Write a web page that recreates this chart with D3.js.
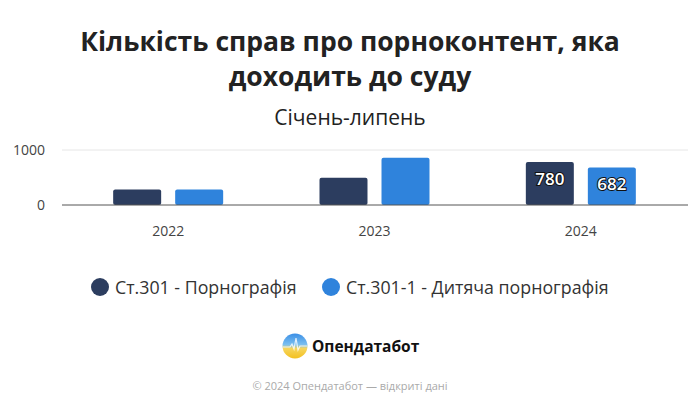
<!DOCTYPE html>
<html>
<head>
<meta charset="utf-8">
<script src="https://cdn.jsdelivr.net/npm/d3@7"></script>
<style>
  body { margin: 0; background: #fff; }
  svg { display: block; font-family: "Open Sans", "Noto Sans", sans-serif; }
</style>
</head>
<body>
<div id="chart"></div>
<script>
const years = ["2022", "2023", "2024"];
const seriesNames = ["Ст.301 - Порнографія", "Ст.301-1 - Дитяча порнографія"];
const porn = [283, 495, 780];
const childPorn = [282, 860, 682];
const labelled = ["2024"];
const yTicks = [0, 1000];

const width = 700, height = 408;
const colors = ["#2c3d5f", "#2f83dc"];

const svg = d3.select("#chart").append("svg")
  .attr("width", width)
  .attr("height", height);

// title
const title = svg.append("text")
  .attr("text-anchor", "middle")
  .attr("font-size", 26.5)
  .attr("font-weight", "bold")
  .attr("fill", "#222");
title.append("tspan").attr("x", 350).attr("y", 51).text("Кількість справ про порноконтент, яка");
title.append("tspan").attr("x", 350).attr("y", 86).text("доходить до суду");

svg.append("text")
  .attr("x", 350).attr("y", 125)
  .attr("text-anchor", "middle")
  .attr("font-size", 21)
  .attr("fill", "#222")
  .text("Січень-липень");

const margin = { left: 62, right: 12 };

const x = d3.scaleBand().domain(years).range([65, 684]);
const x1 = d3.scaleBand().domain([0, 1]).range([0, 110]).paddingInner(0.226);
const y = d3.scaleLinear().domain([0, 1000]).range([205, 150]);

// grid
svg.append("g")
  .selectAll("line")
  .data(yTicks.filter(d => d > 0))
  .join("line")
  .attr("x1", margin.left).attr("x2", width - margin.right)
  .attr("y1", d => y(d)).attr("y2", d => y(d))
  .attr("stroke", "#e6e6e6");

svg.append("g")
  .selectAll("text")
  .data(yTicks)
  .join("text")
  .attr("x", 45).attr("y", d => y(d) + 5)
  .attr("text-anchor", "end")
  .attr("font-size", 14)
  .attr("fill", "#444")
  .text(d => d);

const rows = years.map((yr, i) => ({ year: yr, values: [porn[i], childPorn[i]] }));

const groups = svg.append("g")
  .selectAll("g")
  .data(rows)
  .join("g")
  .attr("transform", d => `translate(${x(d.year) + x.bandwidth() / 2 - 55},0)`);

groups.selectAll("rect")
  .data(d => d.values.map((v, k) => ({ v, k, year: d.year })))
  .join("rect")
  .attr("x", d => x1(d.k))
  .attr("width", x1.bandwidth())
  .attr("y", d => y(d.v))
  .attr("height", d => y(0) - y(d.v))
  .attr("rx", 2)
  .attr("fill", d => colors[d.k]);

groups.selectAll("text.lbl")
  .data(d => labelled.includes(d.year) ? d.values.map((v, k) => ({ v, k })) : [])
  .join("text")
  .attr("class", "lbl")
  .attr("x", d => x1(d.k) + x1.bandwidth() / 2)
  .attr("y", d => y(d.v) + 23)
  .attr("text-anchor", "middle")
  .attr("font-size", 17)
  .attr("font-weight", 600)
  .attr("fill", "#fff")
  .attr("stroke", "#111")
  .attr("stroke-width", 2)
  .attr("paint-order", "stroke")
  .text(d => d.v);

// zero axis
svg.append("line")
  .attr("x1", margin.left).attr("x2", width - margin.right)
  .attr("y1", y(0)).attr("y2", y(0))
  .attr("stroke", "#555").attr("stroke-width", 1);

svg.append("g")
  .selectAll("text")
  .data(years)
  .join("text")
  .attr("x", d => x(d) + x.bandwidth() / 2)
  .attr("y", 236)
  .attr("text-anchor", "middle")
  .attr("font-size", 14)
  .attr("fill", "#444")
  .text(d => d);

// legend
const legendX = [100, 331];
const legend = svg.append("g")
  .selectAll("g")
  .data(seriesNames)
  .join("g")
  .attr("transform", (d, i) => `translate(${legendX[i]},287)`);
legend.append("circle").attr("r", 9).attr("fill", (d, i) => colors[i]);
legend.append("text")
  .attr("x", 15).attr("y", 6.5)
  .attr("font-size", 17.8)
  .attr("fill", "#333")
  .text(d => d);

// logo
const defs = svg.append("defs");
const grad = defs.append("linearGradient").attr("id", "logoGrad")
  .attr("x1", 0).attr("y1", 0).attr("x2", 0).attr("y2", 1);
grad.append("stop").attr("offset", "0%").attr("stop-color", "#3a8ee6");
grad.append("stop").attr("offset", "45%").attr("stop-color", "#7cc0f0");
grad.append("stop").attr("offset", "60%").attr("stop-color", "#f6d55c");
grad.append("stop").attr("offset", "100%").attr("stop-color", "#f3c020");

const logo = svg.append("g").attr("transform", "translate(295,346)");
logo.append("circle").attr("r", 12.5).attr("fill", "url(#logoGrad)");
logo.append("path")
  .attr("d", "M-12,1 L-5,1 L-3,-2 L-1,3 L1,-8 L3,4 L5,0 L12,0")
  .attr("fill", "none").attr("stroke", "#fff").attr("stroke-width", 1.2).attr("opacity", 0.8);

svg.append("text")
  .attr("x", 312).attr("y", 352)
  .attr("font-size", 15.5)
  .attr("font-weight", "bold")
  .attr("fill", "#111")
  .text("Опендатабот");

svg.append("text")
  .attr("x", 350).attr("y", 390)
  .attr("text-anchor", "middle")
  .attr("font-size", 11)
  .attr("fill", "#aaa")
  .text("© 2024 Опендатабот — відкриті дані");
</script>
</body>
</html>
